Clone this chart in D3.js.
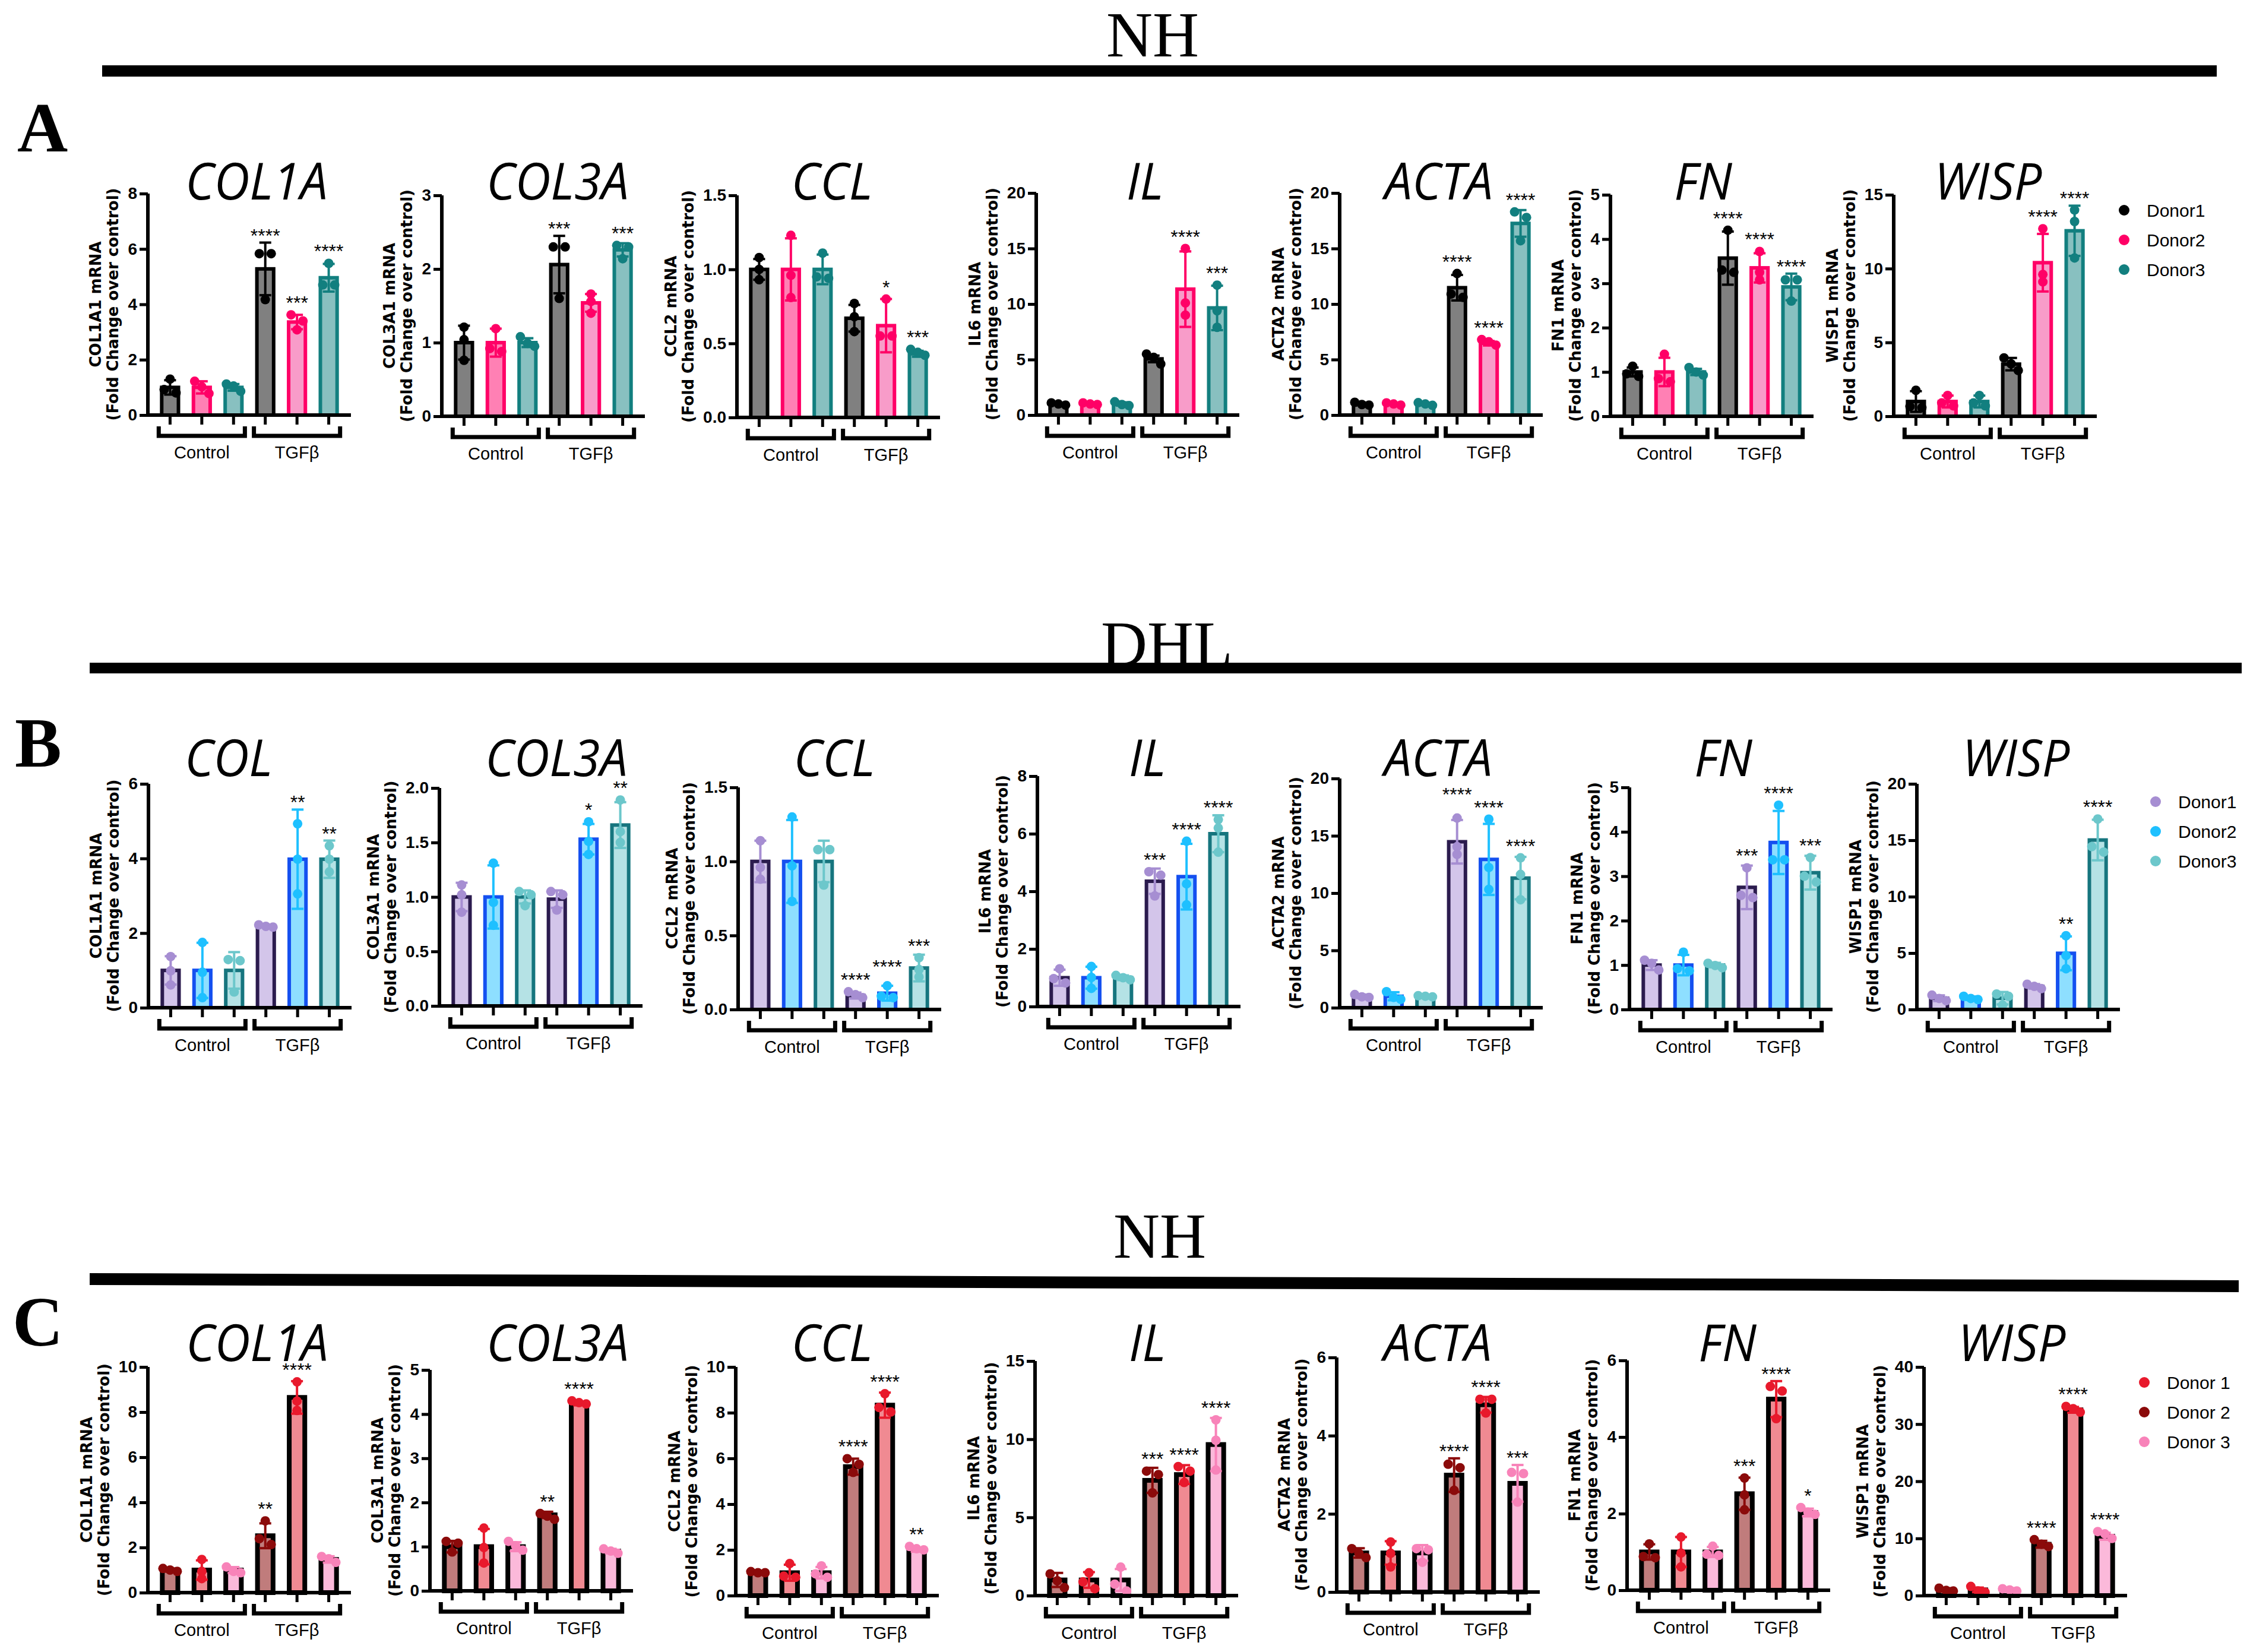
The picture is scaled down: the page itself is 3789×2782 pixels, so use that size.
<!DOCTYPE html>
<html lang="en">
<head>
<meta charset="utf-8"/>
<title>NH / DHL fibroblasts – TGFβ response</title>
<script src="https://cdn.jsdelivr.net/npm/d3@7"></script>
<style>
  body { margin: 0; background: #fff; }
  text { font-family: "Liberation Sans", Arial, sans-serif; }
</style>
</head>
<body>
<svg id="fig" width="3789" height="2782"></svg>

<script>
// ---------------------------------------------------------------------------
// data (fold change over control, 3 replicates per bar)
// bar order in every panel: Control D1, D2, D3, TGFβ D1, D2, D3

const groups = ["Control", "TGFβ"]
const mrnaLabels = ["COL1A1 mRNA", "COL3A1 mRNA", "CCL2 mRNA", "IL6 mRNA",
                    "ACTA2 mRNA", "FN1 mRNA", "WISP1 mRNA"]

// --- A : NH
const titlesA = ["COL1A", "COL3A", "CCL", "IL", "ACTA", "FN", "WISP"]
const yMaxA  = [8, 3, 1.5, 20, 20, 5, 15]
const yStepA = [2, 1, 0.5, 5, 5, 1, 5]
const meanA = [
  [1, 1, 1, 5.28, 3.36, 4.96],
  [1, 1, 1, 2.06, 1.54, 2.26],
  [1, 1, 1, 0.67, 0.62, 0.43],
  [1, 1, 1, 5.06, 11.34, 9.65],
  [1, 1, 1, 11.47, 6.47, 17.26],
  [1, 1, 1, 3.57, 3.35, 2.92],
  [1, 1, 1, 3.53, 10.4, 12.56]]
const sdA = [
  [0.26, 0.22, 0.12, 0.95, 0.26, 0.5],
  [0.23, 0.19, 0.06, 0.39, 0.12, 0.09],
  [0.07, 0.21, 0.1, 0.09, 0.18, 0.02],
  [0.1, 0.1, 0.15, 0.3, 3.4, 2.0],
  [0.12, 0.1, 0.12, 1.15, 0.2, 1.2],
  [0.1, 0.32, 0.07, 0.6, 0.33, 0.3],
  [0.7, 0.4, 0.4, 0.42, 1.95, 1.7]]
const ptsA = [
  [[1.3, 0.92, 0.8], [1.22, 1.02, 0.78], [1.12, 1.05, 0.86], [5.83, 5.83, 4.17], [3.62, 3.4, 3.08], [5.48, 4.7, 4.7]],
  [[1.21, 1.04, 0.76], [1.19, 0.92, 0.88], [1.08, 0.99, 0.95], [2.3, 2.3, 1.6], [1.66, 1.56, 1.4], [2.32, 2.3, 2.14]],
  [[1.08, 1.0, 0.93], [1.23, 0.96, 0.81], [1.11, 0.95, 0.94], [0.77, 0.68, 0.58], [0.8, 0.55, 0.55], [0.46, 0.44, 0.42]],
  [[1.1, 1.0, 0.9], [1.1, 1.0, 0.95], [1.2, 0.95, 0.85], [5.5, 5.2, 4.6], [15.0, 10.1, 9.0], [11.7, 9.4, 7.9]],
  [[1.15, 0.95, 0.9], [1.1, 1.0, 0.9], [1.12, 1.0, 0.88], [12.75, 10.9, 10.6], [6.8, 6.6, 6.3], [18.3, 17.8, 15.7]],
  [[1.13, 0.96, 0.9], [1.4, 0.85, 0.78], [1.1, 1.0, 0.93], [4.2, 3.3, 3.25], [3.72, 3.25, 3.08], [3.08, 3.08, 2.6]],
  [[1.76, 0.66, 0.58], [1.41, 0.9, 0.7], [1.41, 0.9, 0.7], [3.95, 3.55, 3.1], [12.7, 9.6, 9.1], [13.97, 13.19, 10.72]]]
const starsA = [
  ["", "", "", "****", "***", "****"],
  ["", "", "", "***", "", "***"],
  ["", "", "", "", "*", "***"],
  ["", "", "", "", "****", "***"],
  ["", "", "", "****", "****", "****"],
  ["", "", "", "****", "****", "****"],
  ["", "", "", "", "****", "****"]]
const legendA = ["Donor1", "Donor2", "Donor3"]

// --- B : DHL
const titlesB = ["COL", "COL3A", "CCL", "IL", "ACTA", "FN", "WISP"]
const yMaxB  = [6, 2, 1.5, 8, 20, 5, 20]
const yStepB = [2, 0.5, 0.5, 2, 5, 1, 5]
const meanB = [
  [1, 1, 1, 2.19, 3.98, 3.98],
  [1, 1, 1, 0.98, 1.53, 1.66],
  [1, 1, 1, 0.094, 0.11, 0.28],
  [1, 1, 1, 4.35, 4.51, 6.0],
  [1, 1, 1, 14.48, 12.94, 11.31],
  [1, 1, 1, 2.75, 3.76, 3.08],
  [1, 1, 1, 2.05, 4.98, 15.02]]
const sdB = [
  [0.38, 0.74, 0.49, 0.03, 1.33, 0.5],
  [0.13, 0.29, 0.06, 0.08, 0.14, 0.21],
  [0.14, 0.28, 0.14, 0.02, 0.05, 0.09],
  [0.28, 0.38, 0.08, 0.44, 1.14, 0.64],
  [0.15, 0.35, 0.08, 1.9, 3.1, 1.85],
  [0.11, 0.23, 0.05, 0.49, 0.71, 0.38],
  [0.25, 0.15, 0.55, 0.2, 1.5, 1.8]]
const ptsB = [
  [[1.37, 0.99, 0.61], [1.75, 0.95, 0.27], [1.29, 1.26, 0.42], [2.22, 2.18, 2.16], [4.93, 3.98, 3.05], [4.34, 3.98, 3.64]],
  [[1.11, 1.02, 0.86], [1.31, 0.95, 0.74], [1.05, 1.02, 0.92], [1.05, 1.02, 0.88], [1.69, 1.51, 1.39], [1.89, 1.6, 1.5]],
  [[1.14, 0.96, 0.88], [1.3, 0.97, 0.73], [1.08, 1.08, 0.84], [0.12, 0.1, 0.08], [0.16, 0.09, 0.08], [0.35, 0.27, 0.22]],
  [[1.31, 0.97, 0.82], [1.39, 1.01, 0.63], [1.08, 1.0, 0.93], [4.68, 4.56, 3.84], [5.74, 4.26, 3.53], [6.49, 6.2, 5.36]],
  [[1.15, 0.95, 0.9], [1.4, 0.9, 0.73], [1.05, 1.0, 0.95], [16.55, 14.05, 13.38], [16.45, 12.23, 10.32], [13.08, 11.63, 9.42]],
  [[1.11, 1.04, 0.89], [1.29, 0.92, 0.87], [1.04, 0.99, 0.94], [3.19, 2.57, 2.52], [4.6, 3.37, 3.37], [3.42, 3.0, 2.87]],
  [[1.27, 0.98, 0.78], [1.17, 0.98, 0.88], [1.37, 1.17, 0.39], [2.24, 2.05, 1.85], [6.54, 4.78, 3.61], [16.88, 14.44, 13.95]]]
const starsB = [
  ["", "", "", "", "**", "**"],
  ["", "", "", "", "*", "**"],
  ["", "", "", "****", "****", "***"],
  ["", "", "", "***", "****", "****"],
  ["", "", "", "****", "****", "****"],
  ["", "", "", "***", "****", "***"],
  ["", "", "", "", "**", "****"]]
const legendB = ["Donor1", "Donor2", "Donor3"]

// --- C : NH
const titlesC = ["COL1A", "COL3A", "CCL", "IL", "ACTA", "FN", "WISP"]
const yMaxC  = [10, 5, 10, 15, 6, 6, 40]
const yStepC = [2, 1, 2, 5, 2, 2, 10]
const meanC = [
  [1, 1, 1, 2.52, 8.65, 1.47],
  [1, 1, 1, 1.72, 4.24, 0.9],
  [1, 1, 1, 5.64, 8.33, 2.0],
  [1, 1, 1, 7.37, 7.74, 9.66],
  [1, 1, 1, 2.99, 4.79, 2.78],
  [1, 1, 1, 2.52, 4.99, 2.03],
  [1, 1, 1, 8.98, 32.5, 10.38]]
const sdC = [
  [0.07, 0.43, 0.13, 0.55, 0.72, 0.14],
  [0.13, 0.4, 0.1, 0.07, 0.04, 0.05],
  [0.05, 0.35, 0.25, 0.35, 0.55, 0.08],
  [0.45, 0.5, 0.7, 0.8, 0.6, 1.7],
  [0.12, 0.3, 0.2, 0.43, 0.2, 0.47],
  [0.2, 0.39, 0.13, 0.42, 0.47, 0.1],
  [0.3, 0.4, 0.3, 0.6, 0.5, 0.6]]
const ptsC = [
  [[1.07, 1.0, 0.94], [1.47, 0.94, 0.62], [1.14, 0.94, 0.88], [3.18, 2.39, 2.13], [9.34, 8.49, 8.07], [1.6, 1.5, 1.34]],
  [[1.12, 1.08, 0.88], [1.42, 0.98, 0.63], [1.12, 1.02, 0.92], [1.75, 1.69, 1.62], [4.3, 4.26, 4.23], [0.95, 0.9, 0.85]],
  [[1.05, 1.0, 1.0], [1.4, 0.85, 0.8], [1.3, 0.95, 0.8], [5.99, 5.74, 5.39], [8.83, 8.23, 8.03], [2.15, 2.05, 2.0]],
  [[1.39, 0.95, 0.51], [1.46, 0.88, 0.44], [1.82, 0.73, 0.29], [7.96, 7.74, 6.57], [8.25, 7.96, 7.23], [11.24, 9.93, 8.03]],
  [[1.11, 0.99, 0.88], [1.28, 0.99, 0.64], [1.11, 1.08, 0.76], [3.27, 3.18, 2.6], [4.93, 4.93, 4.58], [3.06, 3.03, 2.3]],
  [[1.21, 0.88, 0.85], [1.39, 0.97, 0.61], [1.15, 0.94, 0.91], [2.93, 2.49, 2.1], [5.32, 5.2, 4.48], [2.16, 2.04, 1.98]],
  [[1.3, 0.9, 0.8], [1.6, 0.8, 0.6], [1.2, 1.0, 0.8], [9.78, 8.98, 8.58], [33.1, 32.7, 32.1], [11.2, 10.8, 10.0]]]
const starsC = [
  ["", "", "", "**", "****", ""],
  ["", "", "", "**", "****", ""],
  ["", "", "", "****", "****", "**"],
  ["", "", "", "***", "****", "****"],
  ["", "", "", "****", "****", "***"],
  ["", "", "", "***", "****", "*"],
  ["", "", "", "****", "****", "****"]]
const legendC = ["Donor 1", "Donor 2", "Donor 3"]

// ---------------------------------------------------------------------------
// styling + placement (not data)

const rows = [
  { letter: "A", head: "NH", titles: titlesA, yMax: yMaxA, yStep: yStepA,
    mean: meanA, sd: sdA, pts: ptsA, stars: starsA, legend: legendA,
    fills:   ["#808080", "#ff80b4", "#88c0c0", "#808080", "#f89cc9", "#88c0c0"],
    strokes: ["#000", "#ff0066", "#127f7f", "#000", "#ff0066", "#127f7f"],
    dots:    ["#000", "#ff0066", "#127f7f", "#000", "#ff0066", "#127f7f"],
    legendColors: ["#000", "#ff0066", "#127f7f"], barStroke: 6,
    axisX: [249, 744, 1241, 1745, 2256, 2712, 3189],
    top:   [326, 329, 329, 325, 325, 328, 328],
    base:  [699, 701, 703, 699, 699, 701, 701],
    titleX: [432, 939, 1401, 1928, 2423, 2868, 3348], titleY: 336,
    legendX: 3577, legendY: 354,
    letterPos: [29, 255], headPos: [1941, 95],
    rule: [[172, 110], [3733, 110], [3733, 129], [172, 129]] },
  { letter: "B", head: "DHL", titles: titlesB, yMax: yMaxB, yStep: yStepB,
    mean: meanB, sd: sdB, pts: ptsB, stars: starsB, legend: legendB,
    fills:   ["#d3c5ea", "#8edfff", "#b5e2e5", "#d3c5ea", "#8edfff", "#b5e2e5"],
    strokes: ["#2b1b4e", "#1450f0", "#16757e", "#2b1b4e", "#1450f0", "#16757e"],
    dots:    ["#a68ed2", "#1ec0ff", "#6cc7cb", "#a68ed2", "#1ec0ff", "#6cc7cb"],
    legendColors: ["#a68ed2", "#1ec0ff", "#6cc7cb"], barStroke: 6,
    axisX: [250, 740, 1243, 1747, 2256, 2744, 3228],
    top:   [1320, 1327, 1326, 1307, 1311, 1326, 1320],
    base:  [1697, 1694, 1700, 1695, 1697, 1700, 1700],
    titleX: [385, 937, 1405, 1932, 2422, 2902, 3395], titleY: 1307,
    legendX: 3630, legendY: 1350,
    letterPos: [25, 1291], headPos: [1965, 1121],
    rule: [[151, 1116], [3775, 1116], [3775, 1134], [151, 1134]] },
  { letter: "C", head: "NH", titles: titlesC, yMax: yMaxC, yStep: yStepC,
    mean: meanC, sd: sdC, pts: ptsC, stars: starsC, legend: legendC,
    fills:   ["#c07c7c", "#f08a92", "#fbb9da", "#c07c7c", "#f08a92", "#fbb9da"],
    strokes: ["#000", "#000", "#000", "#000", "#000", "#000"],
    dots:    ["#8b0a0a", "#e8192c", "#f883b9", "#8b0a0a", "#e8192c", "#f883b9"],
    legendColors: ["#e8192c", "#8b0a0a", "#f883b9"], barStroke: 8,
    axisX: [249, 724, 1239, 1743, 2251, 2740, 3240],
    top:   [2302, 2307, 2302, 2292, 2286, 2291, 2302],
    base:  [2682, 2679, 2687, 2687, 2681, 2678, 2687],
    titleX: [433, 939, 1401, 1932, 2421, 2909, 3388], titleY: 2292,
    legendX: 3611, legendY: 2328,
    letterPos: [21, 2266], headPos: [1953, 2118],
    rule: [[151, 2144], [3770, 2156], [3770, 2176], [151, 2164]] }
]

const W = 3789, H = 2782
const svg = d3.select("#fig")
svg.append("rect").attr("width", W).attr("height", H).attr("fill", "#fff")

const R = 8           // dot radius
const AXIS_LEN = 342  // x axis length

// spread near-equal replicate dots sideways (GraphPad-like scatter)
function spread(vals, y) {
  const order = d3.range(vals.length).sort((a, b) => y(vals[a]) - y(vals[b]))
  const clusters = []
  order.forEach(i => {
    const last = clusters[clusters.length - 1]
    if (last && y(vals[i]) - y(vals[last[last.length - 1]]) < R * 1.5) last.push(i)
    else clusters.push([i])
  })
  const offs = { 1: [0], 2: [-10, 10], 3: [-12, 0, 12] }
  const dx = new Array(vals.length).fill(0)
  clusters.forEach(c => c.forEach((i, k) => dx[i] = offs[c.length][k]))
  return dx
}

function drawPanel(row, p) {
  const x0 = row.axisX[p], top = row.top[p], base = row.base[p]
  const g = svg.append("g")
  const y = d3.scaleLinear().domain([0, row.yMax[p]]).range([base, top])
  const x = d3.scaleBand().domain(d3.range(6))
    .range([x0, x0 + AXIS_LEN]).paddingInner(0.36).paddingOuter(0.38)
  const bw = x.bandwidth()

  // title
  g.append("text")
    .attr("transform", `translate(${row.titleX[p]},${row.titleY}) scale(0.96,1)`)
    .attr("text-anchor", "middle")
    .style("font-family", "'Open Sans', 'Noto Sans', sans-serif")
    .style("font-style", "italic").style("font-size", "86px")
    .text(row.titles[p])

  // y axis
  const step = row.yStep[p]
  const ticks = d3.range(0, row.yMax[p] + step / 2, step)
  const yAxis = g.append("g").attr("transform", `translate(${x0},0)`)
    .call(d3.axisLeft(y).tickValues(ticks).tickSize(14).tickSizeOuter(0)
      .tickPadding(4).tickFormat(d3.format(step < 1 ? ".1f" : "d")))
  yAxis.select(".domain").attr("stroke-width", 6).attr("d", `M0,${top}V${base + 3}`)
  yAxis.selectAll(".tick line").attr("stroke-width", 5)
  yAxis.selectAll(".tick text").style("font-size", "28px").style("font-weight", "bold")
    .style("font-family", "'Liberation Sans', Arial, sans-serif").attr("fill", "#000")

  // y label (two lines, rotated)
  const left = yAxis.node().getBBox().x + x0
  const cy = (top + base) / 2
  ;[[mrnaLabels[p], left - 45], ["(Fold Change over control)", left - 16]].forEach(([t, bx]) => {
    g.append("text").attr("transform", `translate(${bx},${cy}) rotate(-90)`)
      .attr("text-anchor", "middle")
      .style("font-family", "'DejaVu Sans', sans-serif").style("font-weight", "bold")
      .style("font-size", "26px").text(t)
  })

  // bars
  const sw = row.barStroke
  g.selectAll("rect.bar").data(row.mean[p]).join("rect").attr("class", "bar")
    .attr("x", (d, i) => x(i) + sw / 2).attr("width", bw - sw)
    .attr("y", d => y(d)).attr("height", d => base - y(d))
    .attr("fill", (d, i) => row.fills[i]).attr("stroke", (d, i) => row.strokes[i])
    .attr("stroke-width", sw)

  // error bars (mean ± SD)
  row.mean[p].forEach((m, i) => {
    const cx = x(i) + bw / 2, s = row.sd[p][i], col = row.dots[i]
    const eb = g.append("g").attr("stroke", col).attr("stroke-width", 4)
    eb.append("line").attr("x1", cx).attr("x2", cx).attr("y1", y(m - s)).attr("y2", y(m + s))
    ;[m - s, m + s].forEach(v => eb.append("line")
      .attr("x1", cx - 10).attr("x2", cx + 10).attr("y1", y(v)).attr("y2", y(v)))
  })

  // replicate dots
  row.pts[p].forEach((vals, i) => {
    const cx = x(i) + bw / 2
    const dx = spread(vals, y)
    g.selectAll(null).data(vals).join("circle")
      .attr("cx", (d, k) => cx + dx[k]).attr("cy", d => y(d)).attr("r", R)
      .attr("fill", row.dots[i])
  })

  // significance stars – above the highest mark; neighbours that would
  // collide get the higher one lifted (as GraphPad does)
  const st = row.stars[p].map((s, i) => {
    if (!s) return null
    const m = row.mean[p][i]
    const topPx = Math.min(y(m + row.sd[p][i]), y(d3.max(row.pts[p][i])) - R)
    const t = g.append("text").attr("x", x(i) + bw / 2)
      .attr("text-anchor", "middle").style("font-size", "32px").text(s)
    return { t, yb: topPx - 1, w: t.node().getComputedTextLength() }
  })
  for (let i = 5; i > 0; i--) {
    const a = st[i - 1], b = st[i]
    if (!a || !b) continue
    if ((a.w + b.w) / 2 > x.step() - 4 && Math.abs(a.yb - b.yb) < 22) {
      if (a.yb <= b.yb) a.yb = b.yb - 22; else b.yb = a.yb - 22
    }
  }
  st.forEach(s => s && s.t.attr("y", s.yb))

  // x axis with ticks under each bar
  const xAxis = g.append("g").attr("transform", `translate(0,${base})`)
    .call(d3.axisBottom(x).tickSize(16).tickSizeOuter(0).tickFormat(() => ""))
  xAxis.select(".domain").attr("stroke-width", 6)
    .attr("d", `M${x0 - 3},0H${x0 + AXIS_LEN}`)
  xAxis.selectAll(".tick line").attr("stroke-width", 5)

  // group brackets + labels
  ;[[0, 2], [3, 5]].forEach(([a, b], k) => {
    const xs = x(a) - 2, xe = x(b) + bw + 2
    g.append("path").attr("d", `M${xs},${base + 19}V${base + 35}H${xe}V${base + 19}`)
      .attr("fill", "none").attr("stroke", "#000").attr("stroke-width", 7)
    g.append("text").attr("x", (xs + xe) / 2).attr("y", base + 73)
      .attr("text-anchor", "middle").style("font-size", "29px").text(groups[k])
  })
}

rows.forEach(row => {
  // section heading (drawn before the rule so the rule sits on top)
  svg.append("text").attr("x", row.headPos[0]).attr("y", row.headPos[1])
    .attr("text-anchor", "middle")
    .style("font-family", "'Liberation Serif', 'Times New Roman', serif")
    .style("font-size", "108px").text(row.head)
  svg.append("polygon").attr("points", row.rule.map(d => d.join(",")).join(" "))
    .attr("fill", "#000")
  svg.append("text").attr("x", row.letterPos[0]).attr("y", row.letterPos[1])
    .style("font-family", "'Liberation Serif', 'Times New Roman', serif")
    .style("font-weight", "bold").style("font-size", "118px").text(row.letter)

  row.titles.forEach((t, p) => drawPanel(row, p))

  // legend
  row.legend.forEach((name, k) => {
    const ly = row.legendY + k * 50
    svg.append("circle").attr("cx", row.legendX).attr("cy", ly).attr("r", 9)
      .attr("fill", row.legendColors[k])
    svg.append("text").attr("x", row.legendX + 38).attr("y", ly).attr("dy", "0.35em")
      .style("font-size", "30px").text(name)
  })
})
</script>
</body>
</html>
